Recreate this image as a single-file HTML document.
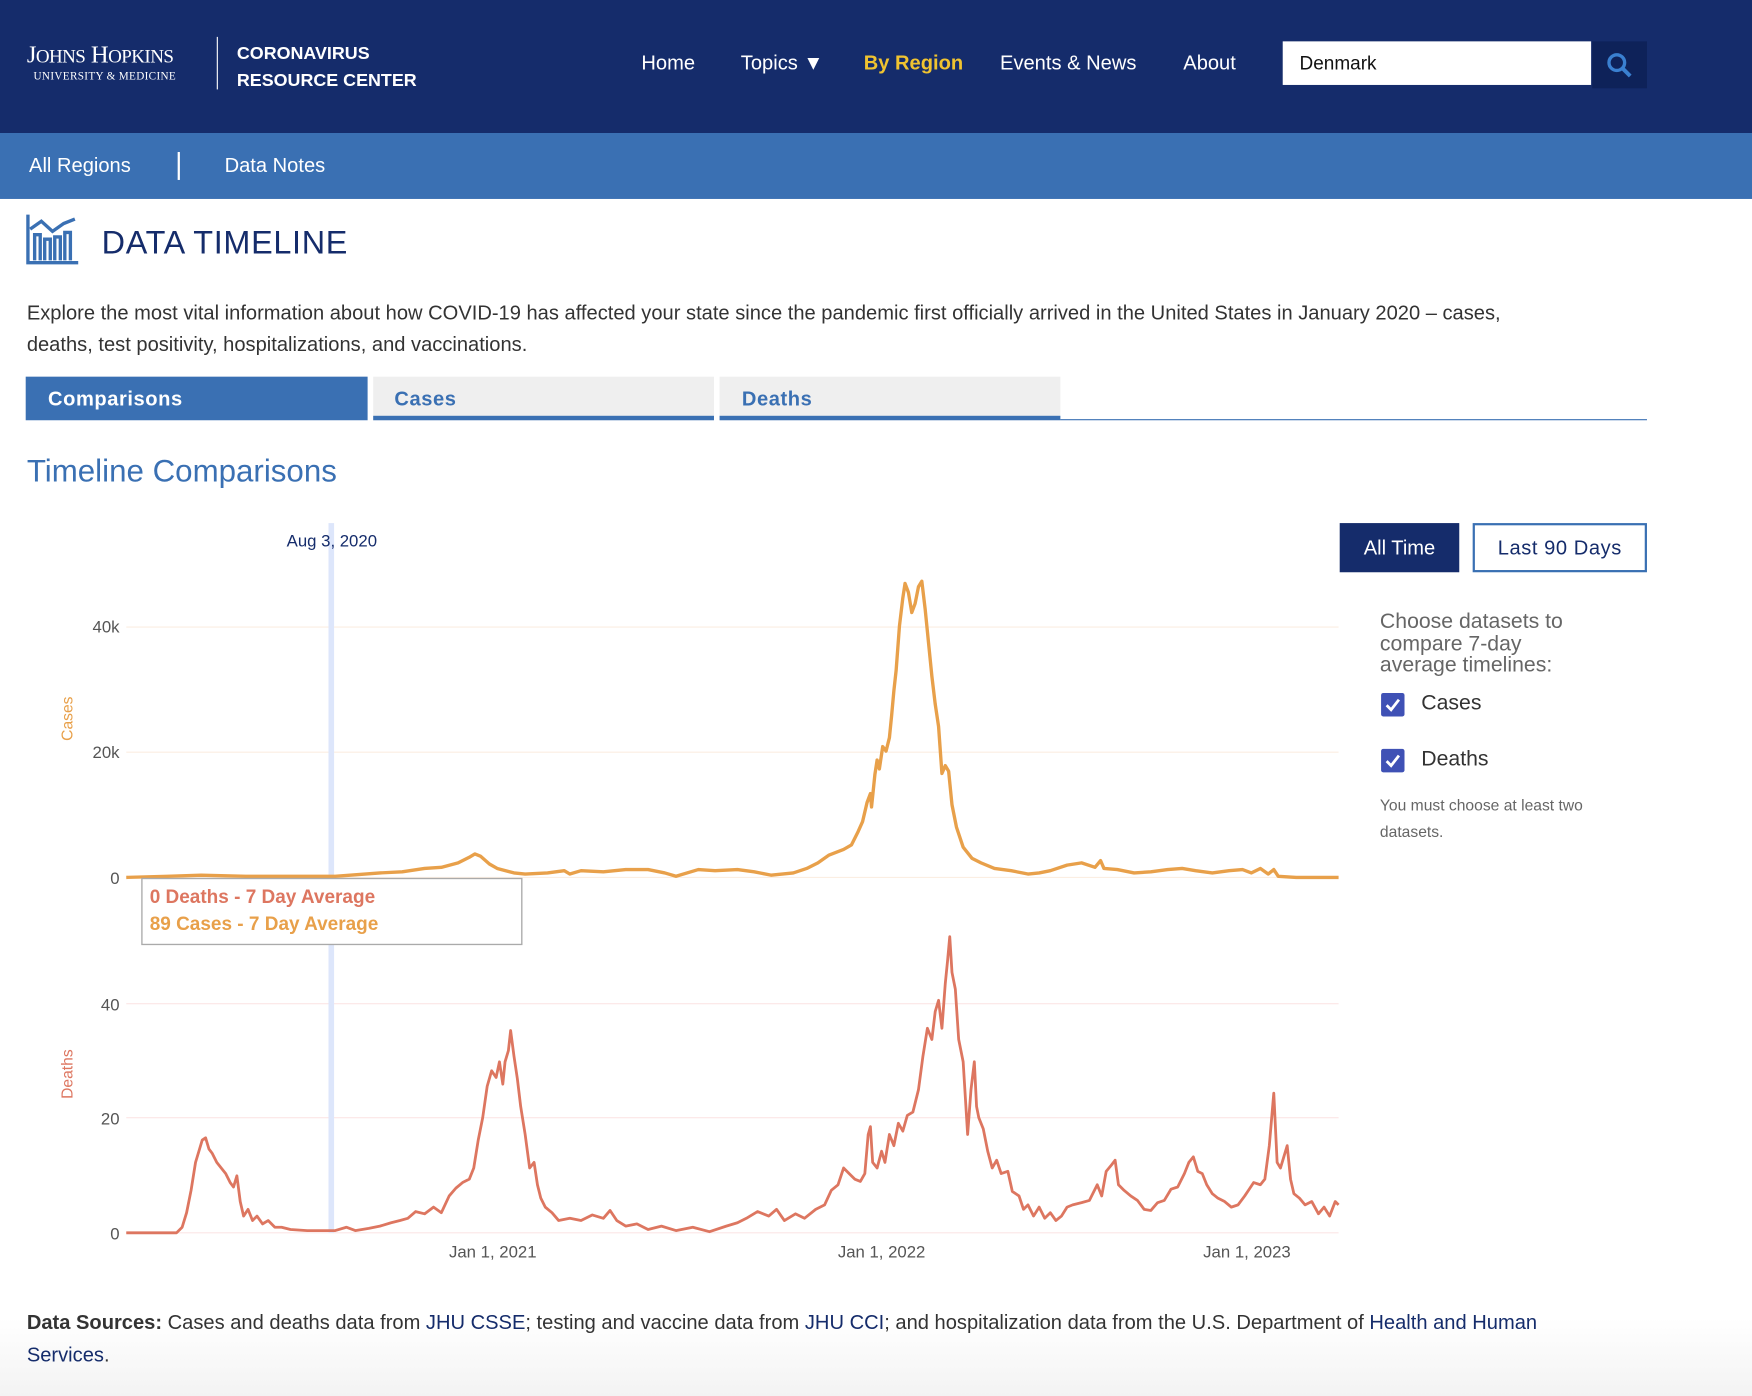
<!DOCTYPE html>
<html><head><meta charset="utf-8"><style>
html,body{margin:0;padding:0;width:1752px;height:1396px;overflow:hidden;background:#fff}
#w{position:absolute;left:0;top:0;width:1568px;height:1249px;transform:scale(1.11735,1.1177);transform-origin:0 0;font-family:"Liberation Sans",sans-serif;background:linear-gradient(#fff 1180px,#f3f3f3 1249px)}
.a{position:absolute;white-space:nowrap}
.nav{color:#fff;font-size:18px;top:46px}
a{color:#152c6b;text-decoration:none}
</style></head><body><div id="w">
<div class="a" style="left:0;top:0;width:1568px;height:119px;background:#152c6b"></div>
<div class="a" style="left:0;top:119px;width:1568px;height:59px;background:#3a70b3"></div>
<div class="a" style="left:24px;top:36px;color:#fff;font-family:'Liberation Serif',serif;font-size:22px;letter-spacing:-0.5px">J<span style="font-size:17px">OHNS</span> H<span style="font-size:17px">OPKINS</span></div>
<div class="a" style="left:30px;top:63px;color:#fff;font-family:'Liberation Serif',serif;font-size:10px;letter-spacing:0.3px">UNIVERSITY &amp; MEDICINE</div>
<div class="a" style="left:194px;top:33px;width:1px;height:47px;background:#fff"></div>
<div class="a" style="left:212px;top:37px;color:#fff;font-weight:bold;font-size:16px;line-height:24px">CORONAVIRUS<br>RESOURCE CENTER</div>
<div class="a nav" style="left:574px">Home</div>
<div class="a nav" style="left:663px">Topics ▼</div>
<div class="a nav" style="left:773px;color:#f0c330;font-weight:bold">By Region</div>
<div class="a nav" style="left:895px">Events &amp; News</div>
<div class="a nav" style="left:1059px">About</div>
<div class="a" style="left:1148px;top:37px;width:276px;height:39px;background:#fff"></div>
<div class="a" style="left:1163px;top:47px;font-size:17px;color:#111">Denmark</div>
<div class="a" style="left:1425px;top:37px;width:49px;height:42px;background:#0e2259"></div>
<svg class="a" style="left:1437px;top:46px" width="26" height="26"><circle cx="10" cy="10" r="7" fill="none" stroke="#3a80d0" stroke-width="3"/><line x1="15" y1="15" x2="22" y2="22" stroke="#3a80d0" stroke-width="3.5"/></svg>
<div class="a" style="left:26px;top:138px;color:#fff;font-size:18px">All Regions</div>
<div class="a" style="left:159px;top:136px;width:2px;height:25px;background:#fff"></div>
<div class="a" style="left:201px;top:138px;color:#fff;font-size:18px">Data Notes</div>
<svg class="a" style="left:22px;top:190px" width="52" height="48" fill="none" stroke="#3a70b3" stroke-width="3"><path d="M3 2 V45 H48"/><path d="M5 15 L15 8 L25 17 L35 10 L45 6"/><path d="M9 43 V20 H14 V43 M18 43 V24 H23 V43 M27 43 V22 H32 V43 M36 43 V18 H41 V43"/></svg>
<div class="a" style="left:91px;top:202px;color:#152c6b;font-size:29px;letter-spacing:0.6px">DATA TIMELINE</div>
<div class="a" style="left:24px;top:266px;color:#333;font-size:18px;line-height:28px;white-space:normal;width:1370px">Explore the most vital information about how COVID-19 has affected your state since the pandemic first officially arrived in the United States in January 2020 – cases, deaths, test positivity, hospitalizations, and vaccinations.</div>
<div class="a" style="left:23px;top:337px;width:306px;height:39px;background:#3a70b3"></div>
<div class="a" style="left:43px;top:347px;color:#fff;font-weight:bold;font-size:18px;letter-spacing:0.5px">Comparisons</div>
<div class="a" style="left:334px;top:337px;width:305px;height:35px;background:#efefef;border-bottom:4px solid #3a70b3"></div>
<div class="a" style="left:353px;top:347px;color:#3a70b3;font-weight:bold;font-size:18px;letter-spacing:0.5px">Cases</div>
<div class="a" style="left:644px;top:337px;width:305px;height:35px;background:#efefef;border-bottom:4px solid #3a70b3"></div>
<div class="a" style="left:664px;top:347px;color:#3a70b3;font-weight:bold;font-size:18px;letter-spacing:0.5px">Deaths</div>
<div class="a" style="left:949px;top:375px;width:525px;height:1px;background:#3a70b3"></div>
<div class="a" style="left:24px;top:406px;color:#3a70b3;font-size:28px">Timeline Comparisons</div>

<svg class="a" style="left:0;top:460px" width="1200" height="680" font-family="Liberation Sans,sans-serif">
<g transform="translate(0,-460)">
<g stroke-width="1"><line x1="113" x2="1198" y1="561" y2="561" stroke="#fbeee2"/><line x1="113" x2="1198" y1="673" y2="673" stroke="#fbeee2"/><line x1="113" x2="1198" y1="785" y2="785" stroke="#fbeee2"/>
<line x1="113" x2="1198" y1="898" y2="898" stroke="#fbe6e6"/><line x1="113" x2="1198" y1="1000" y2="1000" stroke="#fbe6e6"/><line x1="113" x2="1198" y1="1103" y2="1103" stroke="#fbe6e6"/></g>
<rect x="294" y="468" width="5" height="635" fill="#dde6fb"/>
<g font-size="15" fill="#555" text-anchor="end"><text x="107" y="566">40k</text><text x="107" y="678">20k</text><text x="107" y="791">0</text><text x="107" y="904">40</text><text x="107" y="1006">20</text><text x="107" y="1109">0</text></g>
<g font-size="15" fill="#555" text-anchor="middle"><text x="441" y="1125">Jan 1, 2021</text><text x="789" y="1125">Jan 1, 2022</text><text x="1116" y="1125">Jan 1, 2023</text></g>
<text x="297" y="489" font-size="15" fill="#152c6b" text-anchor="middle">Aug 3, 2020</text>
<text transform="translate(65,643) rotate(-90)" font-size="14" fill="#e8a04a" text-anchor="middle">Cases</text>
<text transform="translate(65,961) rotate(-90)" font-size="14" fill="#dd7660" text-anchor="middle">Deaths</text>
<polyline fill="none" stroke="#e8a04a" stroke-width="3" stroke-linejoin="round" points="113,785 150,784 180,783 220,784 300,784 340,781 360,780 380,777 395,776 410,772 420,767 425,764 430,766 438,773 445,777 460,781 470,782 490,781 505,779 510,782 520,779 540,780 560,778 580,778 595,781 605,784 625,778 640,779 660,778 675,780 690,783 710,781 722,777 732,772 742,765 755,760 762,756 768,744 772,735 776,718 779,710 780,722 783,693 785,680 787,688 790,668 793,672 796,660 798,640 800,618 802,600 805,560 808,535 810,522 813,530 816,548 819,540 822,525 825,520 828,545 831,575 834,605 837,630 840,650 843,692 846,685 849,690 852,720 856,740 862,758 870,768 878,772 890,777 905,779 920,782 930,781 940,779 955,774 968,772 980,776 985,770 988,777 1000,778 1015,781 1030,780 1045,778 1058,777 1070,779 1085,781 1100,779 1112,778 1120,781 1128,777 1135,782 1140,778 1144,784 1160,785 1198,785"/>
<polyline fill="none" stroke="#dd7660" stroke-width="2.5" stroke-linejoin="round" points="113,1103 158,1103 163,1098 167,1085 171,1065 175,1040 178,1030 181,1020 184,1018 187,1028 190,1032 194,1040 198,1045 202,1050 206,1058 209,1062 212,1052 215,1075 218,1088 222,1082 226,1092 230,1088 235,1095 240,1092 246,1098 252,1098 260,1100 275,1101 300,1101 310,1098 318,1101 330,1099 340,1097 350,1094 358,1092 365,1090 372,1084 380,1086 388,1080 395,1085 402,1070 408,1063 414,1058 420,1055 424,1045 428,1020 432,1000 436,972 440,958 444,964 447,950 450,970 452,950 455,940 457,922 460,945 463,965 466,990 470,1015 474,1045 478,1040 481,1060 484,1072 488,1080 494,1085 500,1092 510,1090 520,1092 530,1087 540,1090 546,1083 552,1092 560,1097 570,1095 580,1100 592,1097 605,1101 620,1098 635,1102 650,1097 660,1094 668,1090 678,1084 688,1088 695,1082 702,1092 712,1086 720,1090 730,1082 738,1078 744,1065 750,1060 755,1045 760,1050 765,1055 770,1057 774,1050 777,1015 779,1008 781,1040 785,1045 789,1030 792,1040 796,1015 800,1025 804,1005 808,1012 812,998 817,995 822,975 826,945 830,920 834,930 837,905 840,895 843,920 846,880 848,860 850,838 852,870 855,885 858,930 862,950 866,1015 869,975 872,950 874,990 876,1000 880,1010 884,1030 888,1045 892,1038 896,1050 902,1048 906,1066 912,1070 916,1082 920,1078 925,1088 930,1080 935,1090 940,1085 945,1092 950,1088 955,1080 960,1078 968,1076 975,1074 982,1060 986,1070 990,1048 995,1042 998,1038 1001,1060 1006,1065 1012,1070 1018,1074 1024,1082 1030,1083 1036,1076 1042,1074 1048,1064 1054,1062 1060,1050 1064,1040 1068,1035 1072,1048 1076,1050 1080,1060 1085,1068 1090,1072 1096,1075 1102,1080 1108,1078 1114,1070 1118,1064 1122,1058 1128,1060 1132,1055 1136,1025 1140,978 1143,1040 1146,1045 1149,1035 1152,1025 1155,1055 1158,1068 1163,1072 1168,1078 1174,1075 1180,1086 1185,1080 1190,1088 1195,1075 1198,1078"/>
<rect x="127" y="786" width="340" height="59" fill="#fff" stroke="#aaa" stroke-width="1.2"/>
<text x="134" y="808" font-size="17" font-weight="bold" fill="#dd7660">0 Deaths - 7 Day Average</text>
<text x="134" y="832" font-size="17" font-weight="bold" fill="#e8a04a">89 Cases - 7 Day Average</text>
</g></svg>

<div class="a" style="left:1199px;top:468px;width:107px;height:44px;background:#152c6b;color:#fff;font-size:18px;line-height:44px;text-align:center">All Time</div>
<div class="a" style="left:1318px;top:468px;width:152px;height:40px;border:2px solid #3a70b3;color:#152c6b;font-size:18px;line-height:40px;text-align:center;letter-spacing:0.5px">Last 90 Days</div>
<div class="a" style="left:1235px;top:547px;color:#666;font-size:19px;line-height:19.5px">Choose datasets to<br>compare 7-day<br>average timelines:</div>
<svg class="a" style="left:1236px;top:620px" width="22" height="72"><rect width="21" height="21" rx="2" fill="#3f51b5"/><path d="M5 11 L9 15 L16 6" stroke="#fff" stroke-width="2.5" fill="none"/><rect y="50" width="21" height="21" rx="2" fill="#3f51b5"/><path d="M5 61 L9 65 L16 56" stroke="#fff" stroke-width="2.5" fill="none"/></svg>
<div class="a" style="left:1272px;top:619px;color:#333;font-size:19px">Cases</div>
<div class="a" style="left:1272px;top:669px;color:#333;font-size:19px">Deaths</div>
<div class="a" style="left:1235px;top:708px;color:#666;font-size:14px;line-height:24px">You must choose at least two<br>datasets.</div>
<div class="a" style="left:24px;top:1169px;color:#333;font-size:18px;line-height:29px;white-space:normal;width:1420px"><b>Data Sources:</b> Cases and deaths data from <a>JHU CSSE</a>; testing and vaccine data from <a>JHU CCI</a>; and hospitalization data from the U.S. Department of <a>Health and Human Services</a>.</div>
</div></body></html>
